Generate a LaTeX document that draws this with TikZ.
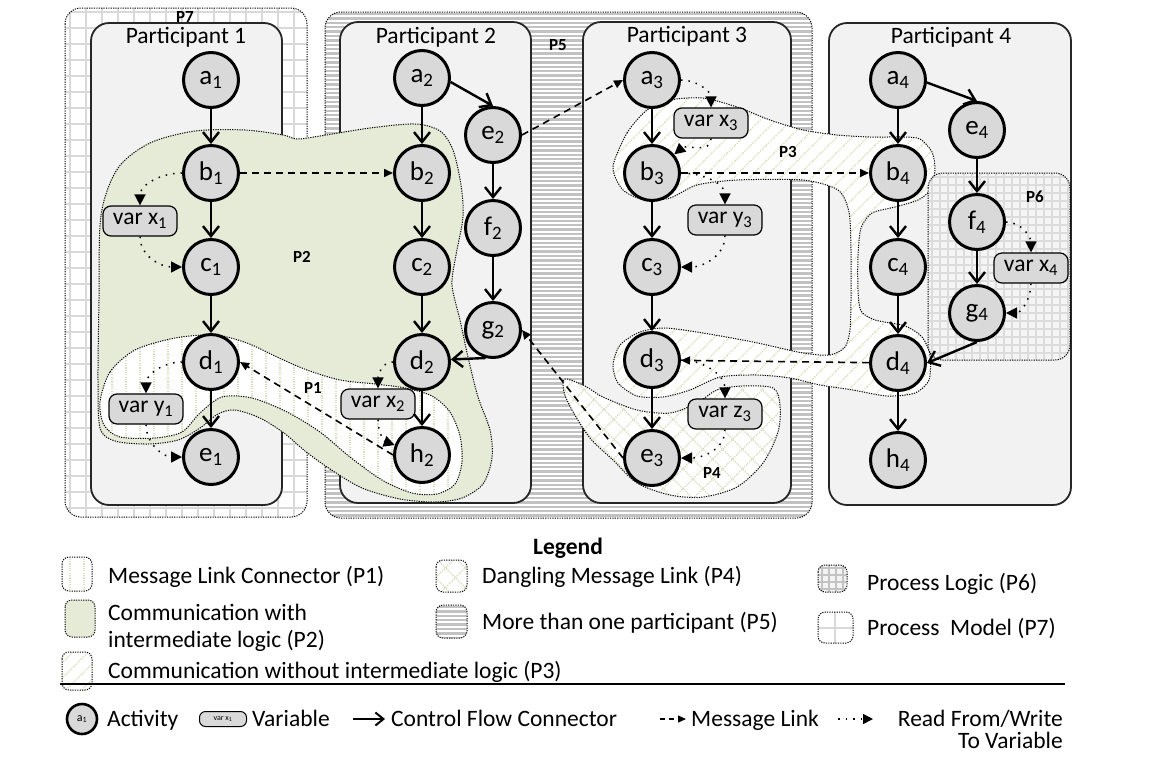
\documentclass[tikz,border=0pt]{standalone}
\usepackage{fontspec}
\setmainfont{Carlito}
\usetikzlibrary{arrows.meta,patterns.meta}
\definecolor{partfill}{HTML}{F2F2F2}
\definecolor{actfill}{HTML}{D9D9D9}
\definecolor{ptwo}{HTML}{E6EBD7}
\definecolor{pline}{HTML}{D8DFBF}
\definecolor{phatch}{HTML}{DDE1BE}
\definecolor{gridc}{HTML}{D9D9D9}
\definecolor{gridd}{HTML}{DCDCDC}
\definecolor{stripec}{HTML}{C2C2C2}
\definecolor{psixbg}{HTML}{F4F4F4}
\newcommand{\ssub}[1]{\textsubscript{#1}}
\begin{document}
\begin{tikzpicture}[x=1pt,y=-1pt,
  every node/.style={font=\fontsize{23.5}{27}\selectfont, inner sep=0pt},
  part/.style={draw=black!85, line width=1.8pt, fill=partfill, rounded corners=18pt},
  act/.style={circle, draw, line width=3pt, fill=actfill, minimum size=55pt, font=\fontsize{27}{27}\selectfont},
  varbox/.style={draw, line width=1.2pt, fill=actfill, rounded corners=8pt, minimum width=74pt, minimum height=30pt},
  ctrl/.style={line width=2.4pt, -{Straight Barb[length=10pt,width=16pt]}},
  msg/.style={line width=1.6pt, dash pattern=on 7pt off 5pt, -{Triangle[length=9pt,width=8pt]}},
  rw/.style={line width=1.5pt, dash pattern=on 1.5pt off 6pt, -{Triangle[length=11pt,width=11pt]}},
  region/.style={draw, line width=1pt, dash pattern=on 1.2pt off 1.2pt},
  plabel/.style={font=\bfseries\fontsize{17}{17}\selectfont},
  txt/.style={anchor=base west},
  p1fill/.style={preaction={fill=white}, pattern={Lines[angle=90,distance=14pt,line width=2pt]}, pattern color=pline},
  p2fill/.style={fill=ptwo},
  p3fill/.style={preaction={fill=white}, pattern={Lines[angle=45,distance=11pt,line width=1.4pt]}, pattern color=phatch},
  p4fill/.style={preaction={fill=white}, pattern={Hatch[angle=45,distance=14pt,line width=1.4pt]}, pattern color=pline},
  stripe/.style={stripec, line width=2.4pt},
  gridline/.style={gridc, line width=2.5pt},
  fgrid/.style={gridd, line width=1.4pt},
  icon/.style={region, rounded corners=7pt}
]
\fill[white] (0,0) rectangle (1169,756);
\useasboundingbox (0,0) rectangle (1169,756);

% P7 : process model (grid)
\begin{scope}
  \clip[rounded corners=16pt] (65,8) rectangle (307,517);
  \foreach \xx in {0,...,15} \draw[gridline] ({70+\xx*16},8) -- ({70+\xx*16},517);
  \foreach \yy in {0,...,32} \draw[gridline] (65,{12+\yy*16}) -- (307,{12+\yy*16});
\end{scope}
\draw[region, rounded corners=16pt] (65,8) rectangle (307,517);
% P5 : more than one participant (stripes)
\begin{scope}
  \clip[rounded corners=16pt] (325,12) rectangle (812,518);
  \foreach \yy in {0,...,115} \draw[stripe] (325,{14+\yy*4.4}) -- (812,{14+\yy*4.4});
\end{scope}
\draw[region, rounded corners=16pt] (325,12) rectangle (812,518);

% participants
\draw[part] (91,23) rectangle (282,505);
\draw[part] (340,22) rectangle (531,503);
\draw[part] (583,22) rectangle (791,503);
\draw[part] (829,23) rectangle (1071,505);
\node (t1) at (186,37) {Participant 1};
\node (t2) at (436,37) {Participant 2};
\node (t3) at (687,36) {Participant 3};
\node (t4) at (951,37) {Participant 4};

% P2
\draw[region, p2fill] plot[smooth cycle, tension=0.5] coordinates {
 (99,300) (101,215) (118,168) (150,143) (195,131) (245,130) (283,135) (297,139)
 (320,136) (370,128) (415,124) (440,131) (453,150) (461,185) (463,217) (456,255)
 (452,285) (460,320) (468,357) (478,397) (490,430) (492,458) (483,484) (462,498)
 (435,502) (400,499) (362,488) (330,469) (305,451) (284,433) (260,418) (235,410)
 (218,414) (200,428) (178,440) (148,444) (115,441) (100,428) (98,380)};
% P1
\draw[region, p1fill] plot[smooth cycle, tension=0.5] coordinates {
 (100,402) (110,372) (135,350) (175,338) (215,335) (247,343) (277,357) (307,370)
 (340,380) (375,384) (405,388) (432,396) (450,412) (460,436) (462,462) (455,484)
 (437,494) (412,493) (382,480) (350,457) (320,432) (287,412) (252,398) (222,397)
 (200,413) (182,432) (155,438) (120,437) (104,425)};
% P3
\draw[region, p3fill] plot[smooth cycle, tension=0.45] coordinates {
 (613,167) (627,133) (647,110) (670,100) (703,98) (737,107) (770,120) (803,130)
 (837,135) (870,137) (903,137) (920,139) (932,152) (935,170) (930,190) (918,200)
 (895,207) (872,213) (861,228) (858,255) (858,290) (861,311) (875,320) (905,326)
 (922,337) (930,355) (929,380) (915,393) (887,396) (853,390) (820,385) (790,378)
 (757,375) (720,377) (690,390) (663,397) (637,396) (618,383) (613,365) (620,345)
 (640,332) (665,328) (703,333) (753,342) (803,353) (830,355) (845,347) (850,330)
 (851,300) (851,250) (849,212) (838,190) (803,180) (737,180) (697,185) (670,198)
 (645,200) (623,190)};
% P4
\draw[region, p4fill] plot[smooth cycle, tension=0.5] coordinates {
 (565,379) (585,386) (603,397) (637,410) (670,413) (697,403) (717,390) (743,386)
 (773,388) (780,405) (778,432) (763,463) (737,487) (703,497) (670,495) (637,483)
 (613,460) (590,438) (572,410) (564,392)};
% P6 : process logic (fine grid)
\begin{scope}
  \clip[rounded corners=15pt] (928,173) rectangle (1070,360);
  \fill[psixbg] (928,173) rectangle (1070,360);
  \foreach \xx in {0,...,18} \draw[fgrid] ({932+\xx*8},173) -- ({932+\xx*8},360);
  \foreach \yy in {0,...,23} \draw[fgrid] (928,{177+\yy*8}) -- (1070,{177+\yy*8});
\end{scope}
\draw[region, rounded corners=15pt] (928,173) rectangle (1070,360);

% region labels
\node[plabel] (l7) at (185,17) {P7};
\node[plabel] (l5) at (558,45) {P5};
\node[plabel] (l2) at (302,257) {P2};
\node[plabel] (l1) at (313,388) {P1};
\node[plabel] (l3) at (788,152) {P3};
\node[plabel] (l4) at (712,473) {P4};
\node[plabel] (l6) at (1035,197) {P6};

% activities
\node[act] (a1) at (211,80) {a\ssub{1}};
\node[act] (b1) at (211,173) {b\ssub{1}};
\node[act] (c1) at (211,267) {c\ssub{1}};
\node[act] (d1) at (211,362) {d\ssub{1}};
\node[act] (e1) at (211,457) {e\ssub{1}};
\node[act] (a2) at (422,78) {a\ssub{2}};
\node[act] (b2) at (422,173) {b\ssub{2}};
\node[act] (c2) at (422,267) {c\ssub{2}};
\node[act] (d2) at (422,362) {d\ssub{2}};
\node[act] (h2) at (422,455) {h\ssub{2}};
\node[act] (e2) at (493,135) {e\ssub{2}};
\node[act] (f2) at (493,228) {f\ssub{2}};
\node[act] (g2) at (493,330) {g\ssub{2}};
\node[act] (a3) at (652,80) {a\ssub{3}};
\node[act] (b3) at (652,173) {b\ssub{3}};
\node[act] (c3) at (652,267) {c\ssub{3}};
\node[act] (d3) at (652,360) {d\ssub{3}};
\node[act] (e3) at (652,458) {e\ssub{3}};
\node[act] (a4) at (898,80) {a\ssub{4}};
\node[act] (b4) at (898,173) {b\ssub{4}};
\node[act] (c4) at (898,267) {c\ssub{4}};
\node[act] (d4) at (898,363) {d\ssub{4}};
\node[act] (h4) at (898,460) {h\ssub{4}};
\node[act] (e4) at (977,130) {e\ssub{4}};
\node[act] (f4) at (977,222) {f\ssub{4}};
\node[act] (g4) at (977,313) {g\ssub{4}};

% variables
\node[varbox] (vx1) at (140,221) {var x\ssub{1}};
\node[varbox] (vy1) at (146,409) {var y\ssub{1}};
\node[varbox] (vx2) at (378,404) {var x\ssub{2}};
\node[varbox] (vx3) at (711,123) {var x\ssub{3}};
\node[varbox] (vy3) at (725,220) {var y\ssub{3}};
\node[varbox] (vz3) at (725,414) {var z\ssub{3}};
\node[varbox] (vx4) at (1031,268) {var x\ssub{4}};

% control flow
\draw[ctrl] (a1) -- (b1);
\draw[ctrl] (b1) -- (c1);
\draw[ctrl] (c1) -- (d1);
\draw[ctrl] (d1) -- (e1);
\draw[ctrl] (a2) -- (b2);
\draw[ctrl] (a2.-8) -- (e2.north);
\draw[ctrl] (b2) -- (c2);
\draw[ctrl] (c2) -- (d2);
\draw[ctrl] (d2) -- (h2);
\draw[ctrl] (e2) -- (f2);
\draw[ctrl] (f2) -- (g2);
\draw[ctrl] (g2.255) -- (d2.5);
\draw[ctrl] (a3) -- (b3);
\draw[ctrl] (b3) -- (c3);
\draw[ctrl] (c3) -- (d3);
\draw[ctrl] (d3) -- (e3);
\draw[ctrl] (a4) -- (b4);
\draw[ctrl] (a4.-5) -- (e4.north);
\draw[ctrl] (b4) -- (c4);
\draw[ctrl] (c4) -- (d4);
\draw[ctrl] (d4) -- (h4);
\draw[ctrl] (e4) -- (f4);
\draw[ctrl] (f4) -- (g4);
\draw[ctrl] (g4.south) -- (d4.east);

% message links
\draw[msg] (b1) -- (b2);
\draw[msg] (h2.west) -- (d1.east);
\draw[msg] (e2.east) -- (a3.west);
\draw[msg] (e3.west) -- (g2.east);
\draw[msg] (b3) -- (b4);
\draw[msg] (d4) -- (d3);

% read / write
\draw[rw] (b1.west) to[out=180,in=90] (vx1.north);
\draw[rw] (vx1.south) to[out=-90,in=180] (c1.west);
\draw[rw] (d1.west) to[out=180,in=90] (vy1.north);
\draw[rw] (vy1.south) to[out=-90,in=180] (e1.west);
\draw[rw] (d2.west) to[out=180,in=90] (vx2.north);
\draw[rw] (vx2.south) to[out=-90,in=160] (h2.160);
\draw[rw] (a3.east) to[out=0,in=90] (vx3.north);
\draw[rw] (vx3.south) to[out=-90,in=40] (b3.40);
\draw[rw] (b3.east) to[out=0,in=90] (vy3.north);
\draw[rw] (vy3.south) to[out=-90,in=0] (c3.east);
\draw[rw] (d3.east) to[out=0,in=90] (vz3.north);
\draw[rw] (vz3.south) to[out=-90,in=0] (e3.east);
\draw[rw] (f4.east) to[out=0,in=90] (vx4.north);
\draw[rw] (vx4.south) to[out=-90,in=0] (g4.east);

% legend
\node[font=\bfseries\fontsize{23.5}{27}\selectfont] (lg) at (568,548) {Legend};
\draw[icon, p1fill] (62,557) rectangle (92,591);
\draw[icon, p2fill] (65,600) rectangle (95,637);
\draw[icon, p3fill] (62,652) rectangle (92,690);
\draw[icon, p4fill] (436,560) rectangle (467,592);
\begin{scope}
  \clip[rounded corners=7pt] (436,605) rectangle (467,638);
  \fill[white] (436,605) rectangle (467,638);
  \foreach \yy in {0,...,7} \draw[stripe] (436,{607+\yy*4.4}) -- (467,{607+\yy*4.4});
\end{scope}
\draw[icon] (436,605) rectangle (467,638);
\begin{scope}
  \clip[rounded corners=7pt] (818,565) rectangle (847,592);
  \fill[psixbg] (818,565) rectangle (847,592);
  \foreach \xx in {0,...,3} \draw[fgrid, gridc!90!black] ({822+\xx*7},565) -- ({822+\xx*7},592);
  \foreach \yy in {0,...,3} \draw[fgrid, gridc!90!black] (818,{568+\yy*7}) -- (847,{568+\yy*7});
\end{scope}
\draw[icon] (818,565) rectangle (847,592);
\begin{scope}
  \clip[rounded corners=7pt] (818,612) rectangle (853,643);
  \fill[white] (818,612) rectangle (853,643);
  \draw[gridline] (835,612) -- (835,643);
  \draw[gridline] (818,628) -- (853,628);
\end{scope}
\draw[icon] (818,612) rectangle (853,643);
\node[txt] (lt1) at (108,583) {Message Link Connector (P1)};
\node[anchor=west, align=left, font=\fontsize{23.5}{27}\selectfont] (lt2) at (108,628) {Communication with\\intermediate logic (P2)};
\node[txt] (lt3) at (108,678) {Communication without intermediate logic (P3)};
\node[txt] (lt4) at (482,583) {Dangling Message Link (P4)};
\node[txt] (lt5) at (482,629) {More than one participant (P5)};
\node[txt] (lt6) at (867,590) {Process Logic (P6)};
\node[txt] (lt7) at (867,635) {Process\ \ Model (P7)};
\coordinate (ll1) at (60,684);
\coordinate (ll2) at (1065,684);
\draw[line width=1.2pt] (ll1) -- (ll2);

\node[act, minimum size=30pt, line width=2.6pt, font=\fontsize{12}{12}\selectfont] (lga) at (82,719) {a\ssub{1}};
\node[txt] (lta) at (107,726) {Activity};
\node[varbox, minimum width=47pt, minimum height=15pt, line width=1pt, rounded corners=6pt, font=\fontsize{8}{8}\selectfont] (lgv) at (223,719) {var x\ssub{1}};
\node[txt] (ltv) at (252,726) {Variable};
\coordinate (lc1) at (353,719);
\coordinate (lc2) at (385,719);
\draw[ctrl, line width=2pt, -{Straight Barb[length=8pt,width=13pt]}] (lc1) -- (lc2);
\node[txt] (ltc) at (391,726) {Control Flow Connector};
\coordinate (lm1) at (660,719);
\coordinate (lm2) at (686,719);
\draw[msg, line width=1.3pt, dash pattern=on 5pt off 4pt, -{Triangle[length=8pt,width=7pt]}] (lm1) -- (lm2);
\node[txt] (ltm) at (691,726) {Message Link};
\coordinate (lr1) at (838,719);
\coordinate (lr2) at (873,719);
\draw[rw, -{Triangle[length=10pt,width=10pt]}] (lr1) -- (lr2);
\node[anchor=base east, align=right, font=\fontsize{23.5}{22}\selectfont] (ltr) at (1063,748) {Read From/Write\\To Variable};
\end{tikzpicture}
\end{document}
